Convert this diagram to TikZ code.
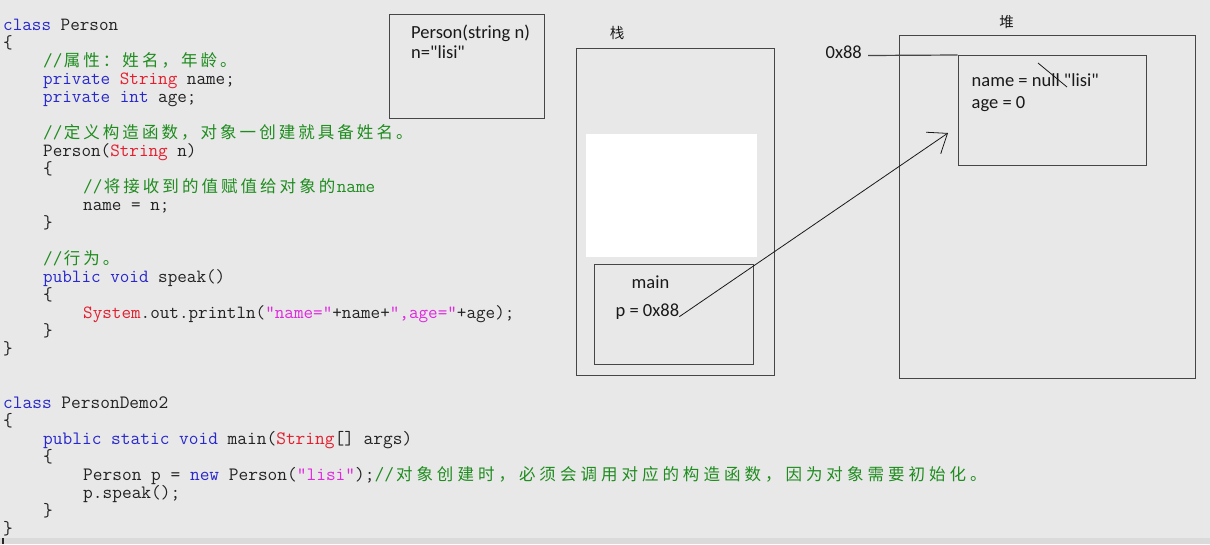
\documentclass[tikz,border=0pt]{standalone}
\usepackage{fontspec}
\newfontfamily\lblfont{Carlito}
\newfontfamily\cjkfont{Noto Sans CJK SC}
\usetikzlibrary{arrows.meta}
\definecolor{bg}{RGB}{232,232,232}
\definecolor{strip}{RGB}{218,218,218}
\definecolor{codec}{RGB}{34,34,34}
\definecolor{kwblue}{RGB}{40,40,205}
\definecolor{tyred}{RGB}{228,30,45}
\definecolor{stmag}{RGB}{225,40,225}
\definecolor{cmgreen}{RGB}{30,140,30}
\definecolor{boxc}{RGB}{70,70,70}
\definecolor{txtc}{RGB}{25,25,25}
\newlength\cjw
\setlength\cjw{19.54pt}
\def\cjloop#1{\ifx\relax#1\else\makebox[\cjw][c]{#1}\expandafter\cjloop\fi}
\newcommand\CJ[1]{{\cjkfont\fontsize{16.5pt}{18pt}\selectfont\cjloop#1\relax}}
\newcommand\cKw[1]{\textcolor{kwblue}{#1}}
\newcommand\cTy[1]{\textcolor{tyred}{#1}}
\newcommand\cSt[1]{\textcolor{stmag}{#1}}
\newcommand\cCm[1]{\textcolor{cmgreen}{#1}}
\tikzset{
  code/.style={anchor=base west, inner sep=0pt, text=codec,
    font=\ttfamily\fontsize{18.61pt}{18pt}\selectfont,
    execute at begin node={\setlength\cjw{19.54pt}}},
  codeb/.style={anchor=base west, inner sep=0pt, text=codec,
    font=\ttfamily\fontsize{18.86pt}{18pt}\selectfont,
    execute at begin node={\setlength\cjw{20.5pt}}},
  frame/.style={draw=boxc, line width=1.2pt, inner sep=0pt},
  lbl/.style={anchor=base west, inner sep=0pt, text=txtc, font=\lblfont\fontsize{18.5pt}{20pt}\selectfont},
  cjlbl/.style={inner sep=0pt, text=txtc, font=\cjkfont\fontsize{14.5pt}{16pt}\selectfont},
  link/.style={draw=txtc, line width=0.8pt}
}
\begin{document}
\begin{tikzpicture}[x=1pt,y=-1pt]
\useasboundingbox (0,0) rectangle (1210,544);
\fill[bg] (0,0) rectangle (1210,544);
\fill[strip] (0,538) rectangle (1210,544);
\fill[black!85] (2,538) rectangle (4,544);

% ---- code: class Person
\node[code] (l1) at (3,30.5) {\cKw{class} Person};
\node[code] (l2) at (3,48.5) {\{};
\node[code] (l3) at (43,66.5) {\cCm{//\CJ{属性：姓名，年龄。}}};
\node[code] (l4) at (43,84.5) {\cKw{private} \cTy{String} name;};
\node[code] (l5) at (43,102.5) {\cKw{private} \cKw{int} age;};
\node[code] (l7) at (43,138.5) {\cCm{//\CJ{定义构造函数，对象一创建就具备姓名。}}};
\node[code] (l8) at (43,156.5) {Person(\cTy{String} n)};
\node[code] (l9) at (43,174.5) {\{};
\node[code] (l10) at (83,192.5) {\cCm{//\CJ{将接收到的值赋值给对象的}name}};
\node[code] (l11) at (83,210.5) {name = n;};
\node[code] (l12) at (43,228.5) {\}};
\node[code] (l14) at (43,264.5) {\cCm{//\CJ{行为。}}};
\node[code] (l15) at (43,282.5) {\cKw{public} \cKw{void} speak()};
\node[code] (l16) at (43,300.5) {\{};
\node[code] (l17) at (83,318.5) {\cTy{System}.out.println(\cSt{"name="}+name+\cSt{",age="}+age);};
\node[code] (l18) at (43,336.5) {\}};
\node[code] (l19) at (3,354.5) {\}};

% ---- code: class PersonDemo2
\node[codeb] (m1) at (3,408.5) {\cKw{class} PersonDemo2};
\node[codeb] (m2) at (3,426.5) {\{};
\node[codeb] (m3) at (43,444.5) {\cKw{public} \cKw{static} \cKw{void} main(\cTy{String}[] args)};
\node[codeb] (m4) at (43,462.5) {\{};
\node[codeb] (m5) at (83,480.5) {Person p = \cKw{new} Person(\cSt{"lisi"});\cCm{//\CJ{对象创建时，必须会调用对应的构造函数，因为对象需要初始化。}}};
\node[codeb] (m6) at (83,498.5) {p.speak();};
\node[codeb] (m7) at (43,516.5) {\}};
\node[codeb] (m8) at (3,534.5) {\}};

% ---- constructor box
\node[frame, anchor=north west, minimum width=155pt, minimum height=104pt] (ctor) at (389,14) {};
\node[lbl] (ctor1) at (411,38.5) {Person(string n)};
\node[lbl] (ctor2) at (411,58.5) {n="lisi"};

% ---- stack
\node[frame, anchor=north west, minimum width=198pt, minimum height=327pt] (stack) at (576,48) {};
\node[cjlbl] (stacklbl) at (617,33) {栈};
\node[fill=white, inner sep=0pt, anchor=north west, minimum width=171pt, minimum height=123pt] (blank) at (586,134) {};
\node[frame, line width=1pt, anchor=north west, minimum width=159pt, minimum height=100pt] (mainf) at (594,264) {};
\node[lbl] (mainlbl) at (631.5,288) {main};
\node[lbl] (pvar) at (615.5,316.5) {p = 0x88};

% ---- heap
\node[frame, anchor=north west, minimum width=296pt, minimum height=343pt] (heap) at (898.5,35) {};
\node[cjlbl] (heaplbl) at (1006.5,22) {堆};
\node[frame, anchor=north west, minimum width=188.5pt, minimum height=110pt] (obj) at (957.5,55) {};
\node[lbl] (addr) at (825.5,58) {0x88};
\node[lbl] (objname) at (971.5,86) {name = null "lisi"};
\node[lbl] (objage) at (971.5,108.5) {age = 0};

% ---- connectors
\coordinate (addrstart) at (868,55.5);
\draw[link, line width=1.2pt, draw=boxc] (addrstart) -- (obj.north west);
\coordinate (tip) at (948,133);
\draw[link, -{Straight Barb[length=17pt,width=26pt,line width=0.8pt]}] ([yshift=-5pt]pvar.east) -- (tip);
\draw[link] (1038,63) -- (1067,87);
\end{tikzpicture}
\end{document}
